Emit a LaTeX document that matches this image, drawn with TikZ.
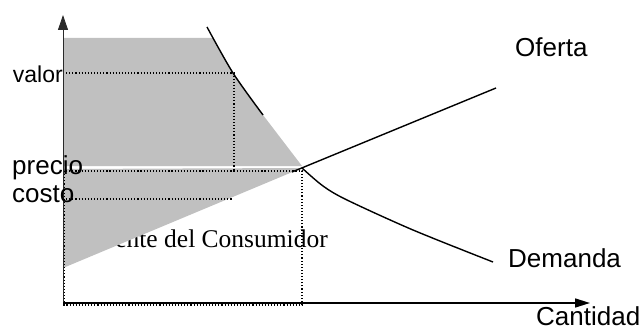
\documentclass[tikz,border=0pt]{standalone}
\usepackage{fontspec}
\setmainfont{Liberation Serif}
\setsansfont{Liberation Sans}
\usepackage{xcolor}
\usepackage{tikz}
\usetikzlibrary{calc,positioning,arrows.meta}
\definecolor{surplusGray}{HTML}{C0C0C0}
\definecolor{axisInk}{HTML}{2A2A2A}
\tikzset{
    axisX/.style={draw=black, line width=1.6pt, -{Triangle[length=15pt, width=9pt]}},
    axisY/.style={draw=axisInk, line width=0.9pt, -{Triangle[length=15pt, width=10pt]}},
    curveLine/.style={draw=black, line width=1.4pt, line join=round},
    guide/.style={draw=black, dotted, line width=1.1pt},
    surplus/.style={fill=surplusGray},
    axisLbl/.style={font=\sffamily\fontsize{26}{30}\selectfont, inner sep=0pt},
    valLbl/.style={font=\sffamily\fontsize{23}{27}\selectfont, inner sep=0pt},
    areaLbl/.style={font=\rmfamily\fontsize{25.5}{30}\selectfont, inner sep=0pt},
}

\begin{document}
\begin{tikzpicture}[x=1pt, y=-1pt]
\useasboundingbox (0,0) rectangle (644,331);

% =======================  key points  =======================
\coordinate (O)      at (63,303);
\coordinate (yTop)   at (63,15);
\coordinate (xEnd)   at (590,303);
\coordinate (eq)     at (302,168);
\coordinate (sStart) at (292,172);
\coordinate (sEnd)   at (496,88);
\coordinate (vY)     at (63,73);
\coordinate (vQ)     at (234,73);
\coordinate (vQb)    at (234,171);
\coordinate (pY)     at (63,171);
\coordinate (pQ)     at (302,171);
\coordinate (cY)     at (63,199);
\coordinate (cQ)     at (233,199);
\coordinate (qBot)   at (302,305);

% text sits under the shaded triangle
\node[areaLbl, anchor=base east] (areaTxt) at (328,247) {ente del Consumidor};

% =======================  shaded areas  =======================
\fill[surplus] (63,38) -- (213,38) -- (233,73) -- (263,115) -- (302,166)
               -- (63,166) -- cycle;
\fill[surplus] (63,169) -- (eq) -- (63,268) -- cycle;

% =======================  curves  =======================
\draw[curveLine] plot[smooth] coordinates {(207,27) (233,73) (263,115)};
\draw[curveLine] plot[smooth] coordinates
     {(302,168) (323,186) (347,200) (413,230) (493,262)};
\draw[curveLine] (sStart) -- (sEnd);

% =======================  guides  =======================
\draw[guide] (vY) -- (vQ) -- (vQb);
\draw[guide] (pY) -- (pQ);
\draw[guide] (cY) -- (cQ);
\draw[guide] ($(pY)+(1,0)$) rectangle (qBot);

% =======================  axes  =======================
\draw[axisY] ($(O)+(0,1)$) -- (yTop);
\draw[axisX] (O) -- (xEnd);

% =======================  labels  =======================
\node[valLbl, anchor=base east] (lblValor) at (63,83) {valor};
\node[axisLbl, anchor=base west] (lblPrecio) at (12,175) {precio};
\node[axisLbl, anchor=base west] (lblCosto) at (12,202) {costo};
\node[axisLbl, anchor=base west] (lblOferta) at (515,57) {Oferta};
\node[axisLbl, anchor=base west] (lblDemanda) at (508,267) {Demanda};
\node[axisLbl, anchor=base west] (lblCantidad) at (536,325) {Cantidad};

\end{tikzpicture}
\end{document}
